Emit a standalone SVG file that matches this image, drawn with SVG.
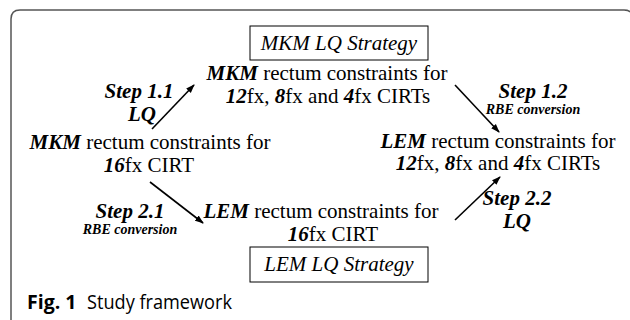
<svg xmlns="http://www.w3.org/2000/svg" width="630" height="320" viewBox="0 0 630 320">
<defs>
<marker id="ah" markerWidth="9" markerHeight="8" refX="8" refY="4" orient="auto" markerUnits="userSpaceOnUse"><path d="M0,0.8 L9,4 L0,7.2 Z" fill="#000"/></marker>
<style>
.t{font-family:"Liberation Serif","DejaVu Serif",serif;font-size:21px;fill:#000;text-anchor:middle}
.b{font-weight:bold;font-style:italic}
.i{font-style:italic}
.s{font-family:"Liberation Serif","DejaVu Serif",serif;font-size:14px;font-weight:bold;font-style:italic;text-anchor:middle}
.box{fill:#fff;stroke:#000;stroke-width:1}
.arr{stroke:#000;stroke-width:1.6;fill:none;marker-end:url(#ah)}
.cap{font-family:"Open Sans",sans-serif;font-size:19.5px;fill:#000}
</style>
</defs>
<rect width="630" height="320" fill="#fff"/>
<path d="M11,320 L11,19 Q11,10 20,10 L624,10 Q630,10 632,14" fill="none" stroke="#555" stroke-width="1.5"/>
<g id="mkm-strategy">
<rect class="box" x="250" y="26" width="178" height="34"/>
<text class="t i" x="339" y="50">MKM LQ Strategy</text>
</g>
<g id="mkm-multi">
<text class="t" x="327" y="80"><tspan class="b">MKM</tspan> rectum constraints for</text>
<text class="t" x="328" y="103"><tspan class="b">12</tspan>fx, <tspan class="b">8</tspan>fx and <tspan class="b">4</tspan>fx CIRTs</text>
</g>
<g id="mkm-16">
<text class="t" x="150" y="149"><tspan class="b">MKM</tspan> rectum constraints for</text>
<text class="t" x="149" y="172"><tspan class="b">16</tspan>fx CIRT</text>
</g>
<g id="lem-multi">
<text class="t" x="498" y="148"><tspan class="b">LEM</tspan> rectum constraints for</text>
<text class="t" x="498" y="170"><tspan class="b">12</tspan>fx, <tspan class="b">8</tspan>fx and <tspan class="b">4</tspan>fx CIRTs</text>
</g>
<g id="lem-16">
<text class="t" x="321" y="218"><tspan class="b">LEM</tspan> rectum constraints for</text>
<text class="t" x="333" y="241"><tspan class="b">16</tspan>fx CIRT</text>
</g>
<g id="lem-strategy">
<rect class="box" x="250" y="247" width="178" height="35"/>
<text class="t i" x="339" y="271">LEM LQ Strategy</text>
</g>
<g id="connectors">
<line class="arr" x1="152" y1="129" x2="194" y2="85"/>
<line class="arr" x1="455" y1="85" x2="499" y2="132"/>
<line class="arr" x1="150" y1="182" x2="203" y2="223"/>
<line class="arr" x1="455" y1="220" x2="500" y2="177"/>
<text class="t b" x="139" y="98">Step 1.1</text>
<text class="t b" x="142" y="121">LQ</text>
<text class="t b" x="533" y="98">Step 1.2</text>
<text class="s" x="533" y="114">RBE conversion</text>
<text class="t b" x="130" y="218">Step 2.1</text>
<text class="s" x="130" y="234">RBE conversion</text>
<text class="t b" x="517" y="205">Step 2.2</text>
<text class="t b" x="517" y="228">LQ</text>
</g>
<text class="cap" x="27" y="309" font-weight="bold">Fig. 1</text>
<text class="cap" x="87" y="309" textLength="145" lengthAdjust="spacingAndGlyphs">Study framework</text>
</svg>
